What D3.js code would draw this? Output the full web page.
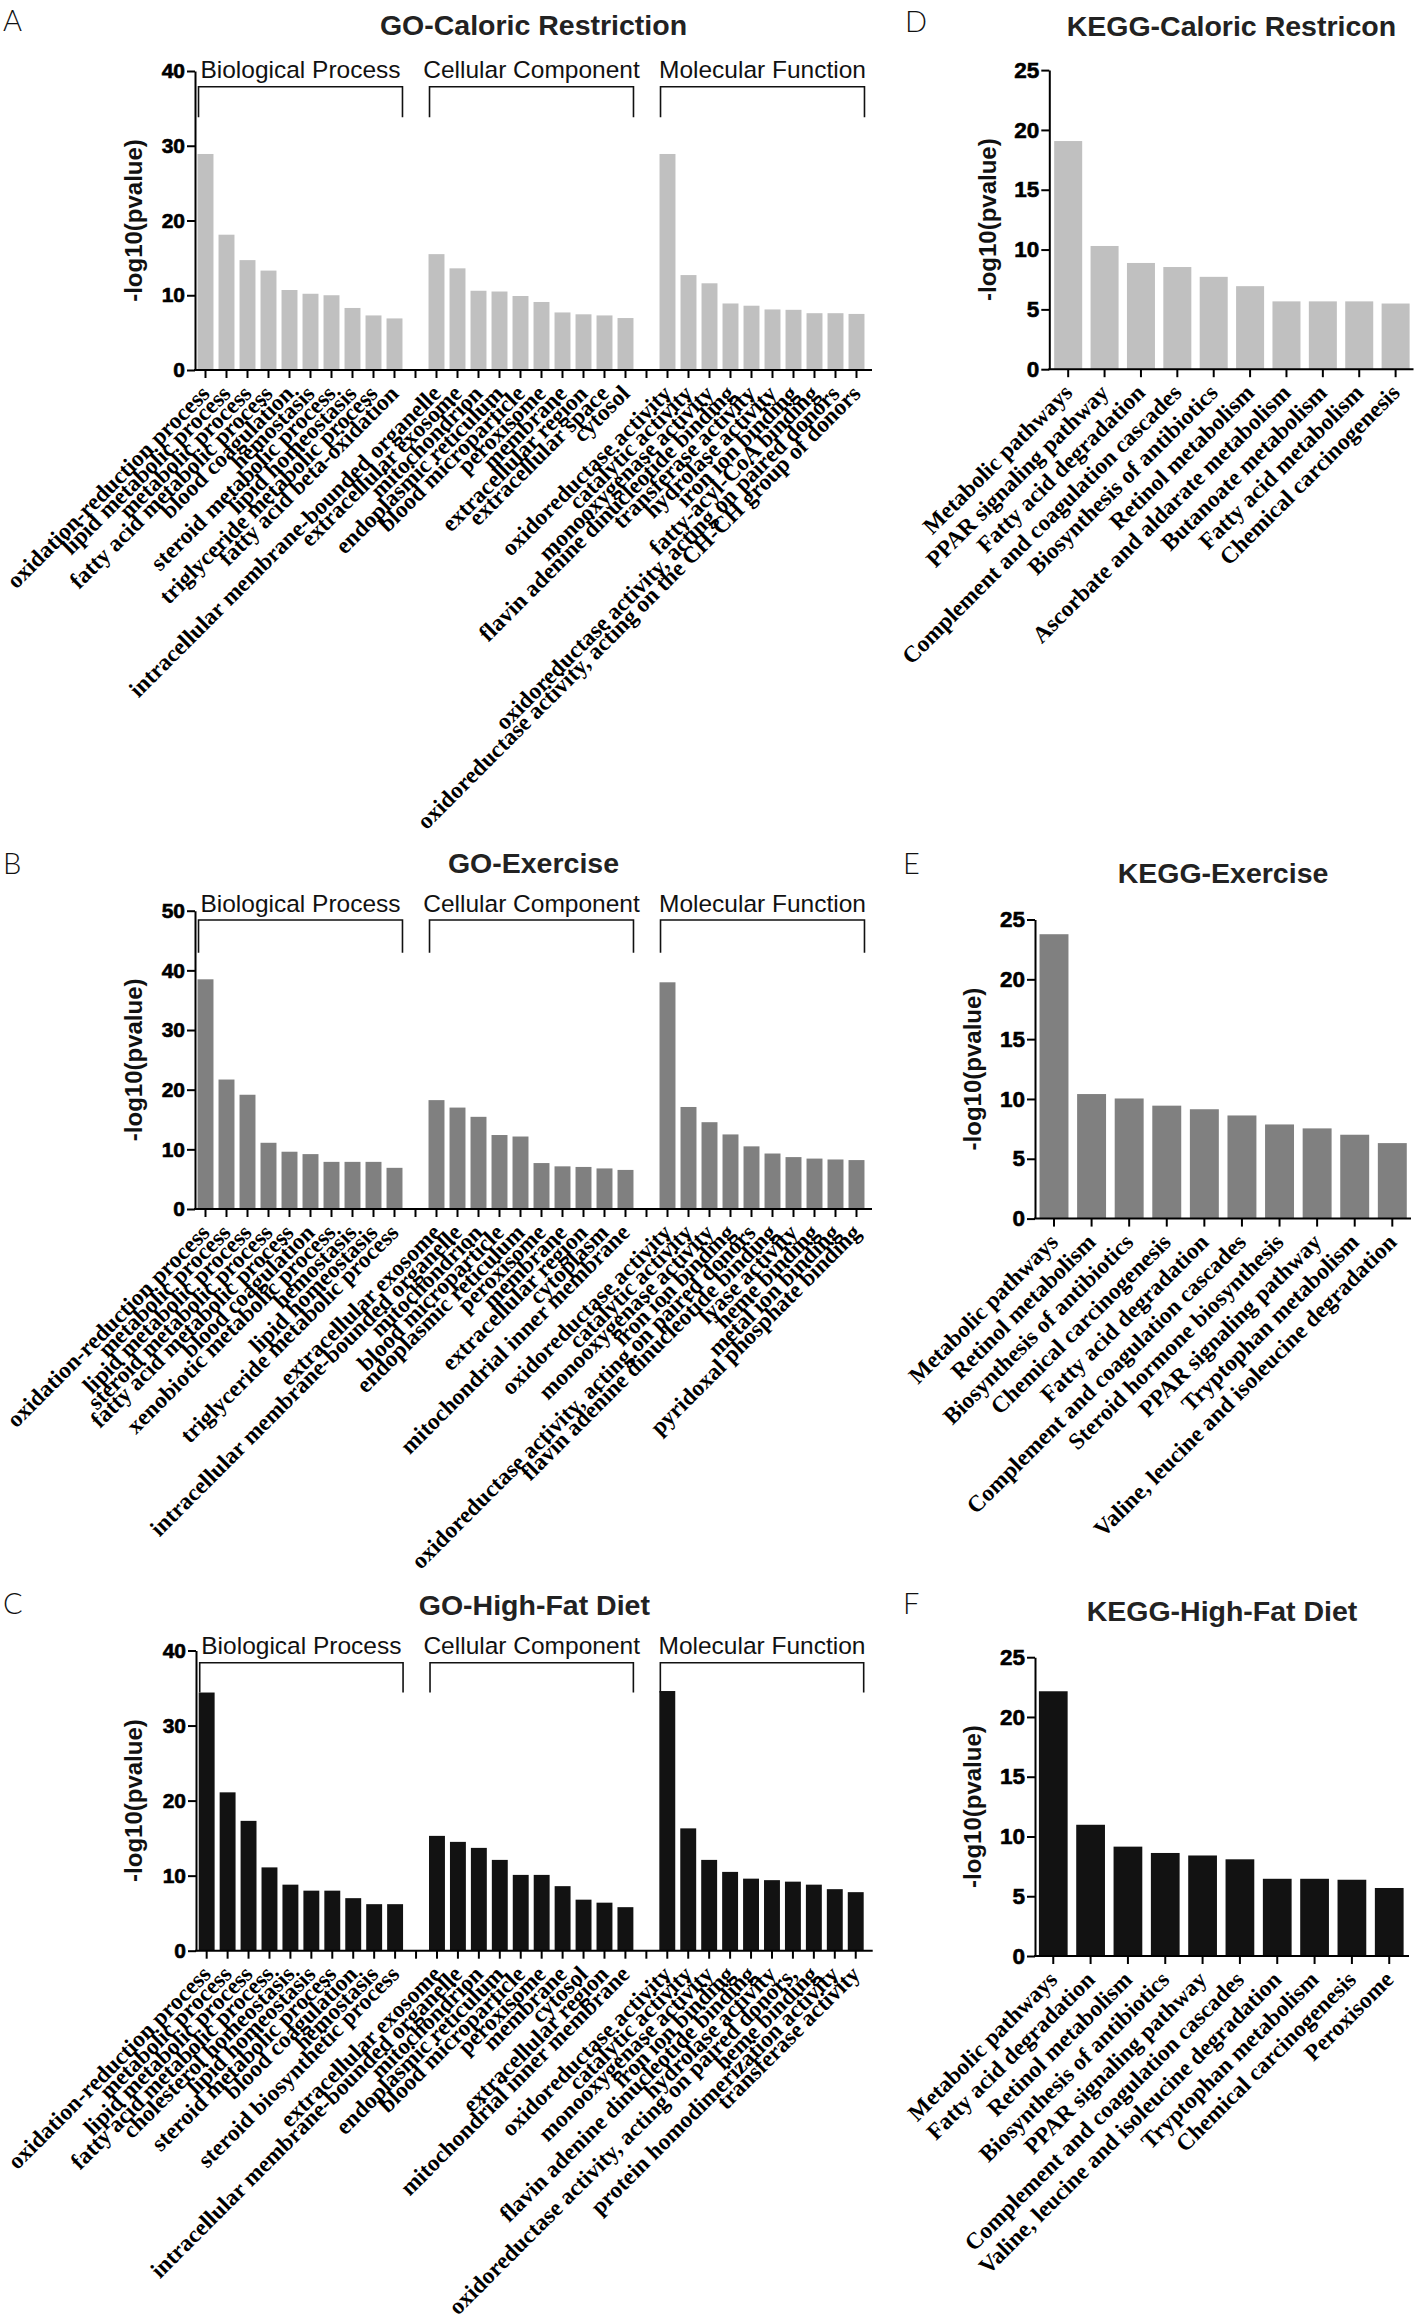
<!DOCTYPE html>
<html><head><meta charset="utf-8">
<script src="https://cdn.jsdelivr.net/npm/d3@7"></script>
<style>body{margin:0;background:#fff}</style>
</head><body>
<svg id="fig" width="1418" height="2322"></svg>
<script>
// ---------- DATA ----------
const goGroupNames = ["Biological Process", "Cellular Component", "Molecular Function"];
const goTicksCR = [0, 10, 20, 30, 40];
const goTicksEx = [0, 10, 20, 30, 40, 50];
const goTicksHF = [0, 10, 20, 30, 40];
const keggTicks = [0, 5, 10, 15, 20, 25];

const crBPTerms = ["oxidation-reduction process","lipid metabolic process","metabolic process","fatty acid metabolic process","blood coagulation","hemostasis","steroid metabolic process","lipid homeostasis","triglyceride metabolic process","fatty acid beta-oxidation"];
const crBPValues = [28.9, 18.1, 14.7, 13.3, 10.7, 10.2, 10.0, 8.3, 7.3, 6.9];
const crCCTerms = ["intracellular membrane-bounded organelle","extracellular exosome","mitochondrion","endoplasmic reticulum","blood microparticle","peroxisome","membrane","extracellular region","extracellular space","cytosol"];
const crCCValues = [15.5, 13.6, 10.6, 10.5, 9.9, 9.1, 7.7, 7.45, 7.3, 6.95];
const crMFTerms = ["oxidoreductase activity","catalytic activity","monooxygenase activity","flavin adenine dinucleotide binding","transferase activity","hydrolase activity","iron ion binding","fatty-acyl-CoA binding","oxidoreductase activity, acting on paired donors","oxidoreductase activity, acting on the CH-CH group of donors"];
const crMFValues = [28.9, 12.7, 11.6, 8.9, 8.6, 8.1, 8.05, 7.6, 7.6, 7.5];

const exBPTerms = ["oxidation-reduction process","metabolic process","lipid metabolic process","steroid metabolic process","fatty acid metabolic process","blood coagulation","xenobiotic metabolic process","hemostasis","lipid homeostasis","triglyceride metabolic process"];
const exBPValues = [38.5, 21.7, 19.15, 11.1, 9.6, 9.2, 7.9, 7.9, 7.9, 6.9];
const exCCTerms = ["extracellular exosome","intracellular membrane-bounded organelle","mitochondrion","blood microparticle","endoplasmic reticulum","peroxisome","membrane","extracellular region","cytoplasm","mitochondrial inner membrane"];
const exCCValues = [18.25, 17.0, 15.45, 12.4, 12.15, 7.7, 7.15, 7.05, 6.8, 6.55];
const exMFTerms = ["oxidoreductase activity","catalytic activity","monooxygenase activity","iron ion binding","oxidoreductase activity, acting on paired donors","flavin adenine dinucleotide binding","lyase activity","heme binding","metal ion binding","pyridoxal phosphate binding"];
const exMFValues = [38.0, 17.1, 14.55, 12.5, 10.5, 9.3, 8.7, 8.45, 8.3, 8.2];

const hfBPTerms = ["oxidation-reduction process","metabolic process","lipid metabolic process","fatty acid metabolic process","cholesterol homeostasis","lipid homeostasis","steroid metabolic process","blood coagulation","hemostasis","steroid biosynthetic process"];
const hfBPValues = [34.4, 21.1, 17.3, 11.1, 8.8, 8.0, 8.0, 7.0, 6.2, 6.2];
const hfCCTerms = ["extracellular exosome","intracellular membrane-bounded organelle","mitochondrion","endoplasmic reticulum","blood microparticle","peroxisome","membrane","cytosol","extracellular region","mitochondrial inner membrane"];
const hfCCValues = [15.3, 14.5, 13.7, 12.1, 10.1, 10.1, 8.6, 6.8, 6.4, 5.8];
const hfMFTerms = ["oxidoreductase activity","catalytic activity","monooxygenase activity","iron ion binding","flavin adenine dinucleotide binding","hydrolase activity","oxidoreductase activity, acting on paired donors,","heme binding","protein homodimerization activity","transferase activity"];
const hfMFValues = [34.6, 16.3, 12.1, 10.5, 9.6, 9.4, 9.2, 8.8, 8.2, 7.8];

const keggCRTerms = ["Metabolic pathways","PPAR signaling pathway","Fatty acid degradation","Complement and coagulation cascades","Biosynthesis of antibiotics","Retinol metabolism","Ascorbate and aldarate metabolism","Butanoate metabolism","Fatty acid metabolism","Chemical carcinogenesis"];
const keggCRValues = [19.07, 10.3, 8.88, 8.54, 7.72, 6.94, 5.67, 5.67, 5.67, 5.49];
const keggExTerms = ["Metabolic pathways","Retinol metabolism","Biosynthesis of antibiotics","Chemical carcinogenesis","Fatty acid degradation","Complement and coagulation cascades","Steroid hormone biosynthesis","PPAR signaling pathway","Tryptophan metabolism","Valine, leucine and isoleucine degradation"];
const keggExValues = [23.77, 10.41, 10.04, 9.44, 9.14, 8.62, 7.87, 7.54, 7.01, 6.31];
const keggHFTerms = ["Metabolic pathways","Fatty acid degradation","Retinol metabolism","Biosynthesis of antibiotics","PPAR signaling pathway","Complement and coagulation cascades","Valine, leucine and isoleucine degradation","Tryptophan metabolism","Chemical carcinogenesis","Peroxisome"];
const keggHFValues = [22.15, 10.98, 9.15, 8.62, 8.41, 8.09, 6.46, 6.46, 6.38, 5.69];

// ---------- DRAWING ----------
const svg = d3.select("#fig");
svg.append("rect").attr("width", 1418).attr("height", 2322).attr("fill", "#fff");

const SANS = "'Liberation Sans', Arial, Helvetica, sans-serif";
const SERIF = "'Liberation Serif', 'Times New Roman', serif";

function letter(txt, x, y) {
  svg.append("text").attr("x", x).attr("y", y).text(txt)
    .style("font-family", "Lato, 'DejaVu Sans', sans-serif").style("font-weight", 300)
    .style("font-size", "29px").attr("fill", "#111");
}
function title(txt, cx, y) {
  svg.append("text").attr("x", cx).attr("y", y).attr("text-anchor", "middle").text(txt)
    .style("font-family", SANS).style("font-weight", "bold").style("font-size", "28.5px").attr("fill", "#222");
}

function styleYAxis(ax, fs) {
  ax.select(".domain").attr("stroke", "#000").attr("stroke-width", 2);
  ax.selectAll(".tick line").attr("stroke", "#000").attr("stroke-width", 2);
  ax.selectAll(".tick text").style("font-family", SANS).style("font-weight", "bold")
    .style("font-size", fs + "px").attr("fill", "#000")
    .attr("stroke", "#000").attr("stroke-width", 0.6);
}
function styleXAxis(ax) {
  ax.select(".domain").remove();
  ax.selectAll(".tick line").attr("stroke", "#000").attr("stroke-width", 2);
  ax.selectAll(".tick text")
    .attr("x", 0).attr("y", 0).attr("dy", null)
    .attr("transform", "translate(5.5,25) rotate(-45)")
    .attr("text-anchor", "end")
    .style("font-family", SERIF).style("font-weight", "bold").style("font-size", "23.3px")
    .attr("fill", "#000");
}

function goPanel(p) {
  const g = svg.append("g");
  const keys = [], labels = {}, vals = {}, groupKeys = [];
  p.groups.forEach((grp, gi) => {
    const gk = [];
    grp.terms.forEach((t, i) => {
      const k = "g" + gi + "_" + i;
      keys.push(k); gk.push(k); labels[k] = t; vals[k] = grp.values[i];
    });
    groupKeys.push(gk);
    if (gi < p.groups.length - 1) { const k = "gap" + gi; keys.push(k); labels[k] = ""; }
  });
  const x = d3.scaleBand().domain(keys).range([p.x0, p.x1]).paddingInner(0.24).paddingOuter(0.12);
  const y = d3.scaleLinear().domain([0, p.yMax]).range([p.y0, p.yTop]);

  g.selectAll("rect.bar").data(keys.filter(k => vals[k] !== undefined)).join("rect")
    .attr("class", "bar")
    .attr("x", k => x(k)).attr("width", x.bandwidth())
    .attr("y", k => y(vals[k])).attr("height", k => y(0) - y(vals[k]))
    .attr("fill", p.color);

  const xa = g.append("g").attr("transform", `translate(0,${p.y0})`)
    .call(d3.axisBottom(x).tickSize(8).tickSizeOuter(0).tickFormat(k => labels[k]));
  styleXAxis(xa);
  g.append("line").attr("x1", p.axisX - 1).attr("x2", p.axisEnd).attr("y1", p.y0).attr("y2", p.y0)
    .attr("stroke", "#000").attr("stroke-width", 2);

  const ya = g.append("g").attr("transform", `translate(${p.axisX},0)`)
    .call(d3.axisLeft(y).tickValues(p.ticks).tickSize(8).tickSizeOuter(0).tickPadding(2).tickFormat(d3.format("d")));
  styleYAxis(ya, 21);

  g.append("text").attr("transform", `translate(142,${(p.y0 + p.yTop) / 2}) rotate(-90)`)
    .attr("text-anchor", "middle").text("-log10(pvalue)")
    .style("font-family", SANS).style("font-weight", "bold").style("font-size", "24px").attr("fill", "#111");

  // group brackets
  groupKeys.forEach((gk, gi) => {
    const l = x(gk[0]) + 1, r = x(gk[gk.length - 1]) + x.bandwidth();
    const t = y(p.bracketTop), b = y(p.bracketBottom);
    g.append("path").attr("d", `M${l},${b}V${t}H${r}V${b}`)
      .attr("fill", "none").attr("stroke", "#111").attr("stroke-width", 1.6);
    g.append("text").attr("x", (l + r) / 2).attr("y", t - 8.5).attr("text-anchor", "middle")
      .text(goGroupNames[gi])
      .style("font-family", SANS).style("font-size", "24.5px").attr("fill", "#111");
  });

  letter(p.letter, p.letterX, p.letterY);
  title(p.title, (p.axisX + p.axisEnd) / 2, p.titleY);
}

function keggPanel(p) {
  const g = svg.append("g");
  const x = d3.scaleBand().domain(p.terms).range([p.x0, p.x1]).paddingInner(0.23).paddingOuter(0.115);
  const y = d3.scaleLinear().domain([0, 25]).range([p.y0, p.yTop]);

  g.selectAll("rect.bar").data(p.terms).join("rect")
    .attr("class", "bar")
    .attr("x", (d) => x(d)).attr("width", x.bandwidth())
    .attr("y", (d, i) => y(p.values[i])).attr("height", (d, i) => y(0) - y(p.values[i]))
    .attr("fill", p.color);

  const xa = g.append("g").attr("transform", `translate(0,${p.y0})`)
    .call(d3.axisBottom(x).tickSize(8).tickSizeOuter(0));
  styleXAxis(xa);
  g.append("line").attr("x1", p.axisX - 1).attr("x2", p.axisEnd).attr("y1", p.y0).attr("y2", p.y0)
    .attr("stroke", "#000").attr("stroke-width", 2);

  const ya = g.append("g").attr("transform", `translate(${p.axisX},0)`)
    .call(d3.axisLeft(y).tickValues(keggTicks).tickSize(8).tickSizeOuter(0).tickPadding(2).tickFormat(d3.format("d")));
  styleYAxis(ya, 22.5);

  g.append("text").attr("transform", `translate(${p.labelX},${(p.y0 + p.yTop) / 2}) rotate(-90)`)
    .attr("text-anchor", "middle").text("-log10(pvalue)")
    .style("font-family", SANS).style("font-weight", "bold").style("font-size", "24px").attr("fill", "#111");

  letter(p.letter, p.letterX, p.letterY);
  title(p.title, (p.axisX + p.axisEnd) / 2, p.titleY);
}

goPanel({
  letter: "A", letterX: 3, letterY: 31, title: "GO-Caloric Restriction", titleY: 35,
  axisX: 195, x0: 195, x1: 867, axisEnd: 872, y0: 370, yTop: 71, yMax: 40, ticks: goTicksCR,
  color: "#c0c0c0", bracketTop: 37.9, bracketBottom: 33.8,
  groups: [{terms: crBPTerms, values: crBPValues}, {terms: crCCTerms, values: crCCValues}, {terms: crMFTerms, values: crMFValues}]
});
goPanel({
  letter: "B", letterX: 3, letterY: 874, title: "GO-Exercise", titleY: 873,
  axisX: 195, x0: 195, x1: 867, axisEnd: 872, y0: 1209, yTop: 910.7, yMax: 50, ticks: goTicksEx,
  color: "#808080", bracketTop: 48.44, bracketBottom: 42.96,
  groups: [{terms: exBPTerms, values: exBPValues}, {terms: exCCTerms, values: exCCValues}, {terms: exMFTerms, values: exMFValues}]
});
goPanel({
  letter: "C", letterX: 3, letterY: 1614, title: "GO-High-Fat Diet", titleY: 1615,
  axisX: 196, x0: 196.2, x1: 866.2, axisEnd: 872.7, y0: 1950.7, yTop: 1650.5, yMax: 40, ticks: goTicksHF,
  color: "#121212", bracketTop: 38.37, bracketBottom: 34.4,
  groups: [{terms: hfBPTerms, values: hfBPValues}, {terms: hfCCTerms, values: hfCCValues}, {terms: hfMFTerms, values: hfMFValues}]
});

keggPanel({
  letter: "D", letterX: 905, letterY: 32, title: "KEGG-Caloric Restricon", titleY: 35.7,
  axisX: 1049.3, x0: 1050, x1: 1413.8, axisEnd: 1413.5, y0: 369.2, yTop: 70.1, labelX: 995.5,
  color: "#c0c0c0", terms: keggCRTerms, values: keggCRValues
});
keggPanel({
  letter: "E", letterX: 903, letterY: 874, title: "KEGG-Exercise", titleY: 883,
  axisX: 1035, x0: 1035.2, x1: 1411.1, axisEnd: 1411, y0: 1218.6, yTop: 919.5, labelX: 980.5,
  color: "#808080", terms: keggExTerms, values: keggExValues
});
keggPanel({
  letter: "F", letterX: 903, letterY: 1614, title: "KEGG-High-Fat Diet", titleY: 1620.7,
  axisX: 1035, x0: 1034.6, x1: 1407.9, axisEnd: 1409, y0: 1956, yTop: 1657.2, labelX: 980.5,
  color: "#121212", terms: keggHFTerms, values: keggHFValues
});
</script>
</body></html>
